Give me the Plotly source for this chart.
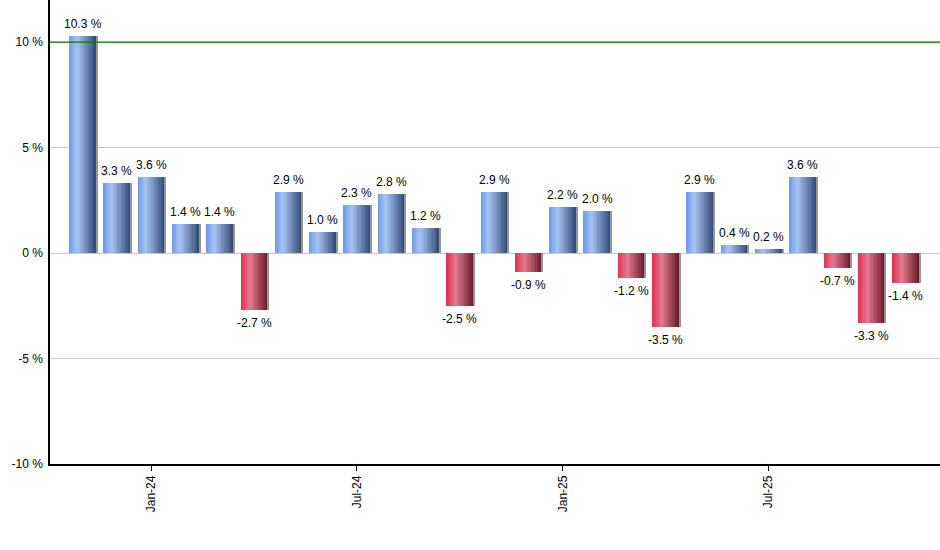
import plotly.graph_objects as go

months = ['Nov-23', 'Dec-23', 'Jan-24', 'Feb-24', 'Mar-24', 'Apr-24', 'May-24', 'Jun-24',
          'Jul-24', 'Aug-24', 'Sep-24', 'Oct-24', 'Nov-24', 'Dec-24', 'Jan-25', 'Feb-25',
          'Mar-25', 'Apr-25', 'May-25', 'Jun-25', 'Jul-25', 'Aug-25', 'Sep-25', 'Oct-25', 'Nov-25']
returns = [10.3, 3.3, 3.6, 1.4, 1.4, -2.7, 2.9, 1.0, 2.3, 2.8, 1.2, -2.5, 2.9,
           -0.9, 2.2, 2.0, -1.2, -3.5, 2.9, 0.4, 0.2, 3.6, -0.7, -3.3, -1.4]
tick_months = ['Jan-24', 'Jul-24', 'Jan-25', 'Jul-25']
y_ticks = [-10, -5, 0, 5, 10]
target = 10

x = list(range(len(months)))

# colour stops across the bar width (cylinder look)
blue_stops = [(0.0, (108, 152, 236)), (0.3, (168, 196, 244)), (1.0, (48, 72, 116))]
red_stops = [(0.0, (226, 46, 80)), (0.35, (230, 122, 144)), (1.0, (104, 24, 40))]


def lerp(stops, t):
    for (t0, c0), (t1, c1) in zip(stops, stops[1:]):
        if t <= t1:
            f = (t - t0) / (t1 - t0)
            return 'rgb(%d,%d,%d)' % tuple(round(a + (b - a) * f) for a, b in zip(c0, c1))
    return 'rgb(%d,%d,%d)' % stops[-1][1]


fig = go.Figure()

bar_w = 0.79
n_strips = 20
sw = bar_w / n_strips
for i in range(n_strips):
    t = (i + 0.5) / n_strips
    cols = [lerp(blue_stops, t) if v >= 0 else lerp(red_stops, t) for v in returns]
    w = sw * 1.6 if i < n_strips - 1 else sw
    fig.add_trace(go.Bar(x=x, y=returns, width=w, offset=-bar_w / 2 + i * sw,
                         marker=dict(color=cols, line=dict(width=0)),
                         hoverinfo='skip', showlegend=False))

# thin grey shadow on right edge
fig.add_trace(go.Bar(x=x, y=returns, width=0.03, offset=bar_w / 2,
                     marker=dict(color='rgb(150,150,150)', line=dict(width=0)),
                     hoverinfo='skip', showlegend=False))

# value labels
for xi, v in zip(x, returns):
    fig.add_annotation(x=xi, y=v, text='%.1f %%' % v, showarrow=False,
                       yanchor='bottom' if v >= 0 else 'top', yshift=3 if v >= 0 else -4,
                       font=dict(family='Liberation Sans, Arial', size=12, color='black'))

fig.add_shape(type='line', xref='paper', x0=0, x1=1, yref='y', y0=target, y1=target,
              line=dict(color='green', width=1.2))

fig.update_xaxes(range=[-0.95, 25.0], tickmode='array',
                 tickvals=[months.index(m) for m in tick_months], ticktext=tick_months,
                 tickangle=-90, ticks='outside', ticklen=5, tickcolor='black',
                 showline=True, linecolor='black', linewidth=1.5, showgrid=False, zeroline=False,
                 tickfont=dict(family='Liberation Sans, Arial', size=12, color='black'))
fig.update_yaxes(range=[-10, 12], tickmode='array', tickvals=y_ticks,
                 ticktext=['%d %%' % v for v in y_ticks],
                 showline=True, linecolor='black', linewidth=1.5,
                 showgrid=True, gridcolor='rgb(200,200,200)', gridwidth=1,
                 zeroline=True, zerolinecolor='rgb(200,200,200)', zerolinewidth=1,
                 ticks='', ticklabelstandoff=3,
                 tickfont=dict(family='Liberation Sans, Arial', size=12, color='black'))

fig.update_layout(width=940, height=550, barmode='overlay', bargap=0,
                  plot_bgcolor='white', paper_bgcolor='white',
                  margin=dict(l=50, r=0, t=0, b=86))

fig.write_html("out.html", config={'displayModeBar': False},
               post_script="document.body.style.margin='0';")
